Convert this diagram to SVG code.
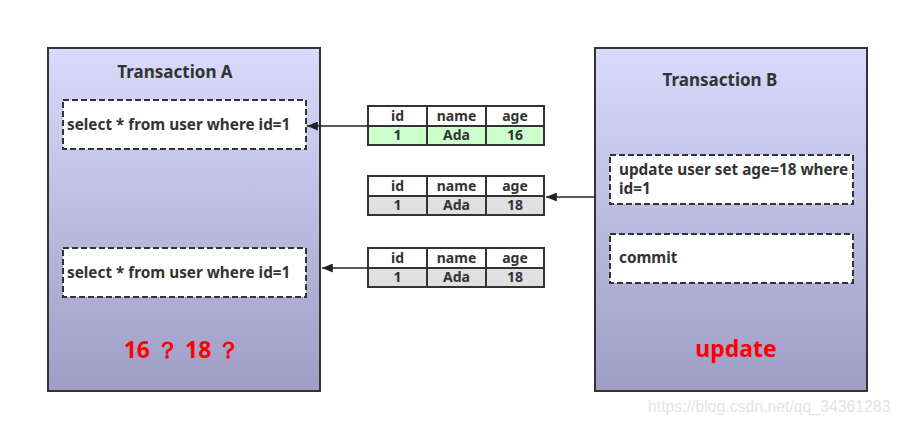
<svg xmlns="http://www.w3.org/2000/svg" width="900" height="424" viewBox="0 0 900 424">
<defs>
<linearGradient id="g" x1="0" y1="0" x2="0" y2="1">
<stop offset="0" stop-color="#dadafc"/>
<stop offset="1" stop-color="#9d9dc6"/>
</linearGradient>
<marker id="ah" viewBox="0 0 12 10" refX="12" refY="5" markerWidth="12" markerHeight="9" markerUnits="userSpaceOnUse" orient="auto">
<path d="M0,0 L12,5 L0,10 z" fill="#222"/>
</marker>
<style>
text{font-family:"Noto Sans","Open Sans",sans-serif;font-weight:bold;fill:#333}
.tx{stroke:#333;stroke-width:2;fill:url(#g)}
.dash{fill:#fff;stroke:#333;stroke-width:2;stroke-dasharray:6,3}
.cell{stroke:#333;stroke-width:2}
.q{font-size:15.3px}
.t{font-size:14px;text-anchor:middle}
.title{font-size:17px;text-anchor:middle}
.red{font-size:23px;fill:#f00;text-anchor:middle}
.conn{stroke:#222;stroke-width:1.5;fill:none;marker-end:url(#ah)}
</style>
</defs>
<rect width="900" height="424" fill="#fff"/>
<g id="txA">
<rect class="tx" x="48" y="48" width="272" height="343"/>
<text class="title" x="175" y="78">Transaction A</text>
<text class="red" x="182" y="358">16 ？ 18 ？</text>
</g>
<g id="qA1">
<rect class="dash" x="63" y="100" width="243" height="49"/>
<text class="q" x="67" y="130">select * from user where id=1</text>
</g>
<g id="qA2">
<rect class="dash" x="63" y="248" width="243" height="49"/>
<text class="q" x="67" y="278">select * from user where id=1</text>
</g>
<g id="txB">
<rect class="tx" x="595" y="48" width="272" height="343"/>
<text class="title" x="720" y="86">Transaction B</text>
<text class="red" x="736" y="357">update</text>
</g>
<g id="qB1">
<rect class="dash" x="610" y="155" width="243" height="49"/>
<text class="q" x="619" y="175">update user set age=18 where</text>
<text class="q" x="619" y="194">id=1</text>
</g>
<g id="qB2">
<rect class="dash" x="610" y="234" width="243" height="49"/>
<text class="q" x="619" y="263">commit</text>
</g>
<g id="table1">
<rect class="cell" x="368" y="106" width="176" height="20" fill="#fff"/>
<rect class="cell" x="368" y="126" width="176" height="19" fill="#ccffcc"/>
<line class="cell" x1="427" y1="106" x2="427" y2="145"/>
<line class="cell" x1="486" y1="106" x2="486" y2="145"/>
<text class="t" x="397.5" y="121">id</text><text class="t" x="456.5" y="121">name</text><text class="t" x="515" y="121">age</text>
<text class="t" x="397.5" y="140">1</text><text class="t" x="456.5" y="140">Ada</text><text class="t" x="515" y="140">16</text>
</g>
<g id="table2">
<rect class="cell" x="368" y="176" width="176" height="20" fill="#fff"/>
<rect class="cell" x="368" y="196" width="176" height="19" fill="#e0e0e0"/>
<line class="cell" x1="427" y1="176" x2="427" y2="215"/>
<line class="cell" x1="486" y1="176" x2="486" y2="215"/>
<text class="t" x="397.5" y="191">id</text><text class="t" x="456.5" y="191">name</text><text class="t" x="515" y="191">age</text>
<text class="t" x="397.5" y="210">1</text><text class="t" x="456.5" y="210">Ada</text><text class="t" x="515" y="210">18</text>
</g>
<g id="table3">
<rect class="cell" x="368" y="248" width="176" height="20" fill="#fff"/>
<rect class="cell" x="368" y="268" width="176" height="19" fill="#e0e0e0"/>
<line class="cell" x1="427" y1="248" x2="427" y2="287"/>
<line class="cell" x1="486" y1="248" x2="486" y2="287"/>
<text class="t" x="397.5" y="263">id</text><text class="t" x="456.5" y="263">name</text><text class="t" x="515" y="263">age</text>
<text class="t" x="397.5" y="282">1</text><text class="t" x="456.5" y="282">Ada</text><text class="t" x="515" y="282">18</text>
</g>
<g id="connectors">
<line class="conn" x1="368" y1="126" x2="307" y2="126"/>
<line class="conn" x1="595" y1="197" x2="546" y2="197"/>
<line class="conn" x1="368" y1="268" x2="322" y2="268"/>
</g>
<text x="648" y="412" style="font-family:'Liberation Sans',sans-serif;font-weight:normal;font-size:15.8px;fill:#e4e4e4">https://blog.csdn.net/qq_34361283</text>
</svg>
